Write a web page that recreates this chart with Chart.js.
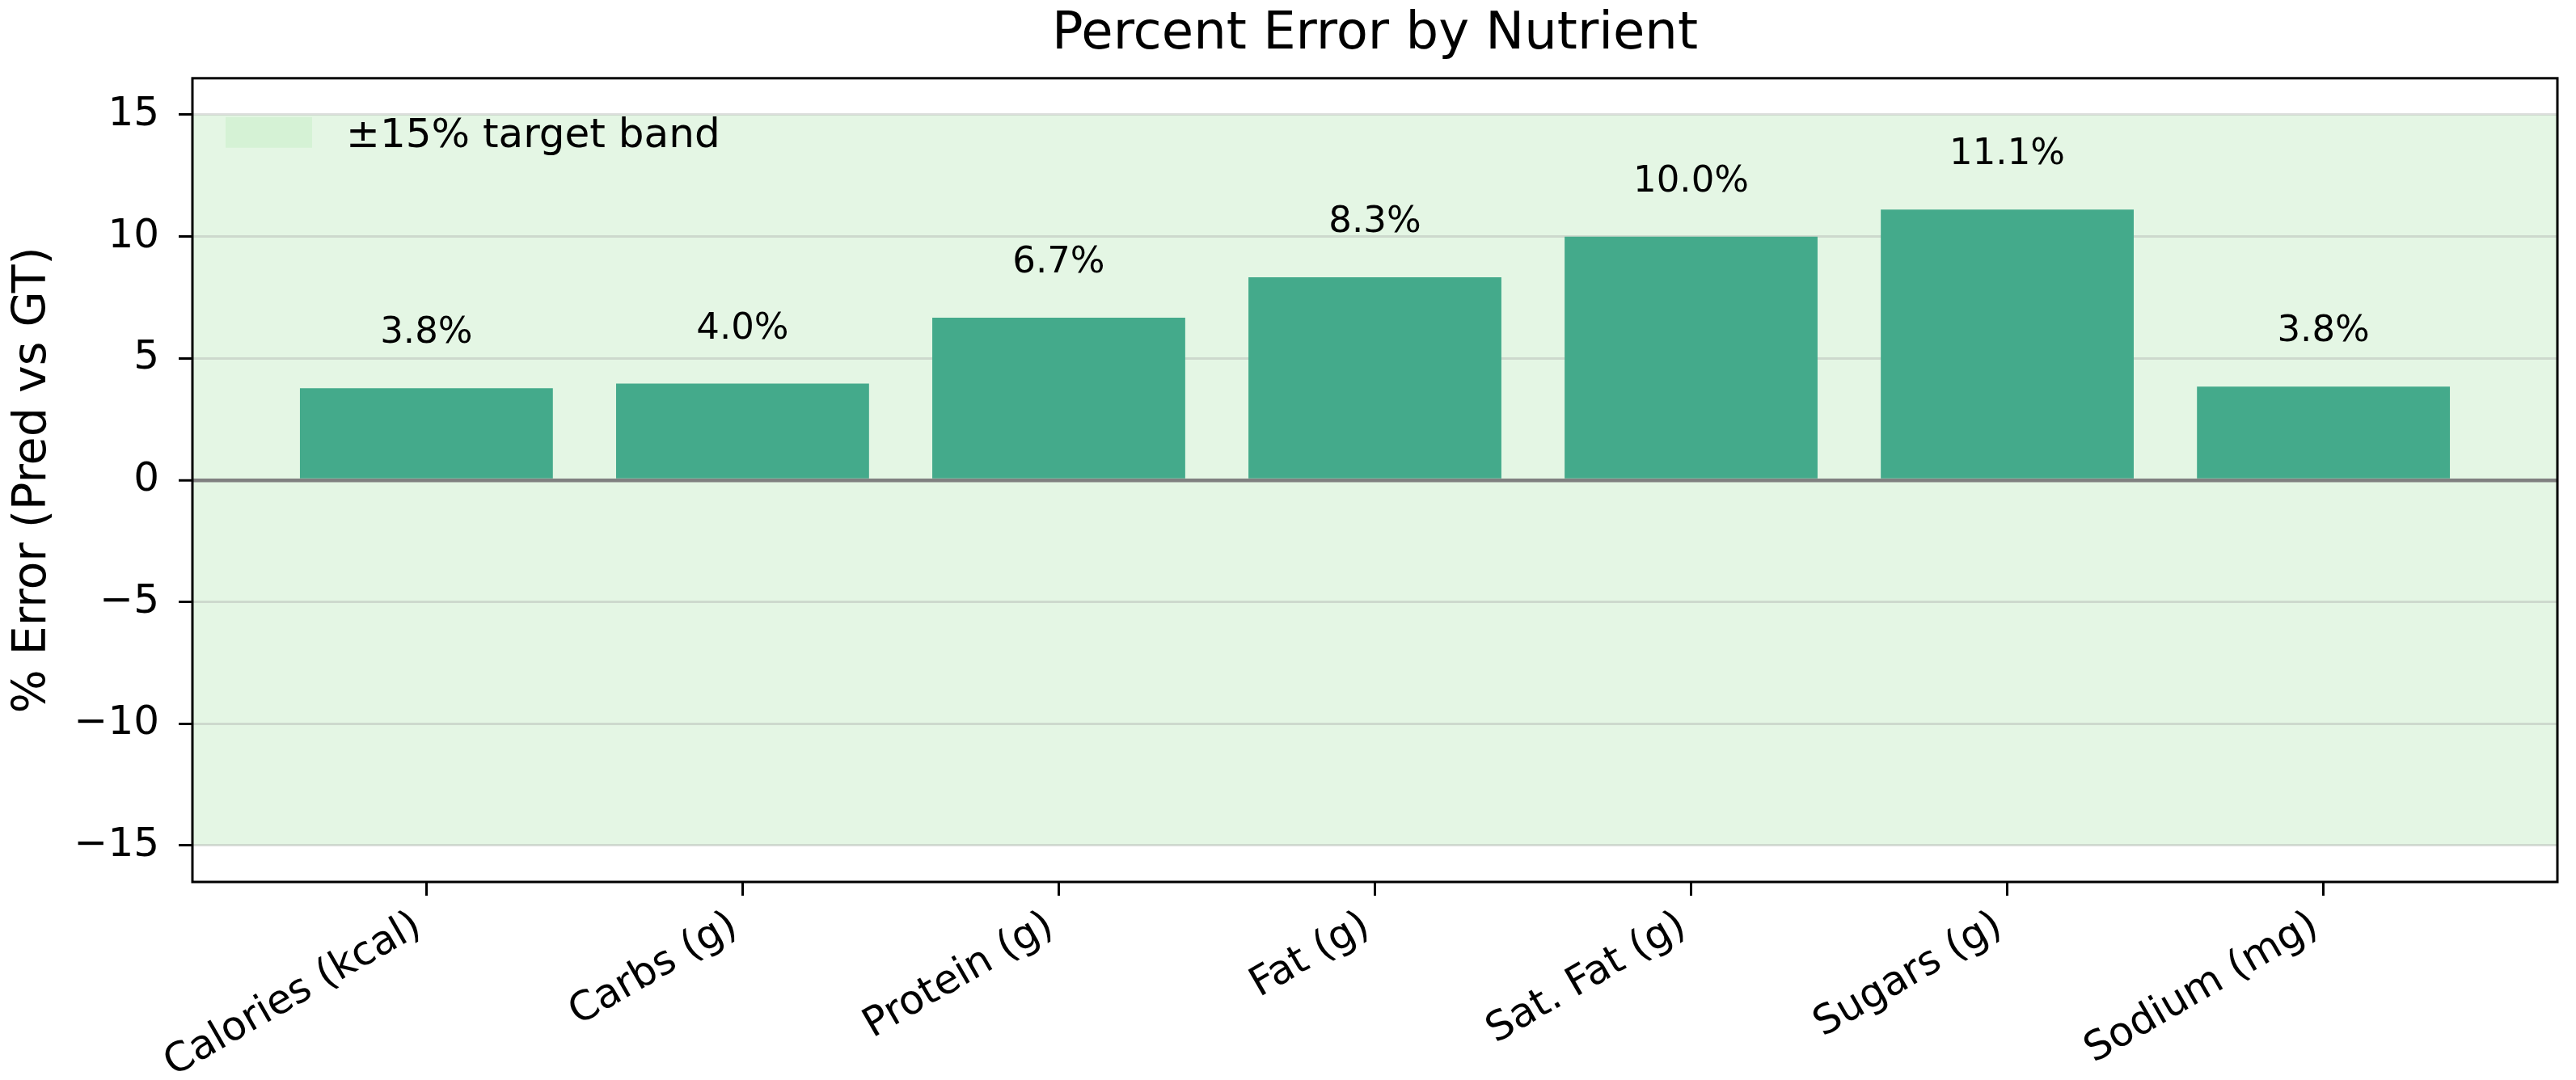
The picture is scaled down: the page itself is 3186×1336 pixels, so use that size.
<!DOCTYPE html>
<html>
<head>
<meta charset="utf-8">
<title>Percent Error by Nutrient</title>
<script src="https://cdn.jsdelivr.net/npm/chart.js@4.4.1/dist/chart.umd.min.js"></script>
<style>
  html, body { margin: 0; padding: 0; background: #fff; }
  canvas { display: block; }
</style>
</head>
<body>
<canvas id="errorChart" width="3186" height="1336"></canvas>
<script>
// ---- data ----
const nutrients = ['Calories (kcal)', 'Carbs (g)', 'Protein (g)', 'Fat (g)', 'Sat. Fat (g)', 'Sugars (g)', 'Sodium (mg)'];
const percentError = [3.77, 3.96, 6.67, 8.33, 10.0, 11.11, 3.84];
const yTickValues = [-15, -10, -5, 0, 5, 10, 15];
const targetBand = [-15, 15];
const bandLabel = '\u00b115% target band';

// axis limits (matplotlib-style margins)
const X_MIN = -0.74, X_MAX = 6.74;
const Y_MIN = -16.5, Y_MAX = 16.5;

// ---- style ----
const FONT = "'DejaVu Sans', sans-serif";
const BAR_COLOR = '#44aa8b';
const BAND_COLOR = '#e4f6e4';
const PATCH_COLOR = '#d5f2d5';
const GRID_COLOR = 'rgba(170, 176, 170, 0.4)';
const ZERO_COLOR = '#808080';
const LABEL_GAP = 1.5; // value-label offset above bar, in data units

/**
 * Shaded +-15% band behind everything
 */
const bandPlugin = {
  id: 'targetBand',
  beforeDraw(chart) {
    const { ctx, chartArea } = chart;
    const y = chart.scales.y;
    const top = y.getPixelForValue(targetBand[1]);
    const bottom = y.getPixelForValue(targetBand[0]);
    ctx.save();
    ctx.fillStyle = BAND_COLOR;
    ctx.fillRect(chartArea.left, top, chartArea.right - chartArea.left, bottom - top);
    ctx.restore();
  }
};

/**
 * Legend entry for the band, upper-left inside the axes
 */
const bandLegendPlugin = {
  id: 'bandLegend',
  beforeDatasetsDraw(chart) {
    const { ctx, chartArea } = chart;
    const x0 = chartArea.left + 41;
    const y0 = chartArea.top + 48;
    ctx.save();
    ctx.fillStyle = PATCH_COLOR;
    ctx.fillRect(x0, y0, 107, 38);
    ctx.fillStyle = '#000';
    ctx.font = `50px ${FONT}`;
    ctx.textAlign = 'left';
    ctx.textBaseline = 'alphabetic';
    ctx.fillText(bandLabel, x0 + 149, y0 + 37);
    ctx.restore();
  }
};

/**
 * Percentage text above each bar
 */
const valueLabelPlugin = {
  id: 'valueLabels',
  afterDatasetsDraw(chart) {
    const { ctx } = chart;
    const y = chart.scales.y;
    const meta = chart.getDatasetMeta(0);
    ctx.save();
    ctx.fillStyle = '#000';
    ctx.font = `45px ${FONT}`;
    ctx.textAlign = 'center';
    ctx.textBaseline = 'bottom';
    meta.data.forEach((bar, i) => {
      const v = percentError[i];
      ctx.fillText(`${v.toFixed(1)}%`, bar.x, y.getPixelForValue(v + LABEL_GAP));
    });
    ctx.restore();
  }
};

/**
 * Black box around the plot area
 */
const framePlugin = {
  id: 'axesFrame',
  afterDraw(chart) {
    const { ctx, chartArea } = chart;
    ctx.save();
    ctx.strokeStyle = '#000';
    ctx.lineWidth = 3;
    ctx.strokeRect(chartArea.left, chartArea.top, chartArea.right - chartArea.left, chartArea.bottom - chartArea.top);
    ctx.restore();
  }
};

const ctx = document.getElementById('errorChart');

new Chart(ctx, {
  type: 'bar',
  data: {
    datasets: [
      {
        label: 'Percent error',
        data: percentError.map((v, i) => ({ x: i, y: v })),
        backgroundColor: BAR_COLOR,
        borderWidth: 0,
        barPercentage: 0.8,
        categoryPercentage: 1.0
      }
    ]
  },
  options: {
    responsive: false,
    devicePixelRatio: 1,
    animation: false,
    layout: {
      padding: { left: 0, right: 23, top: 0, bottom: 0 }
    },
    plugins: {
      title: {
        display: true,
        text: 'Percent Error by Nutrient',
        fullSize: false,
        color: '#000',
        font: { family: FONT, size: 64, weight: 'normal' },
        padding: { top: 5, bottom: 15 }
      },
      legend: { display: false },
      tooltip: { enabled: false }
    },
    scales: {
      x: {
        type: 'linear',
        min: X_MIN,
        max: X_MAX,
        offset: false,
        afterBuildTicks: (scale) => {
          scale.ticks = nutrients.map((_, i) => ({ value: i }));
        },
        afterFit: (scale) => {
          scale.height = 245;
        },
        border: { display: false },
        grid: {
          offset: false,
          drawOnChartArea: false,
          drawTicks: true,
          tickLength: 17,
          tickWidth: 3,
          tickColor: '#000'
        },
        ticks: {
          autoSkip: false,
          minRotation: 30,
          maxRotation: 30,
          padding: 8,
          labelOffset: -10,
          color: '#000',
          font: { family: FONT, size: 50 },
          callback: (value) => nutrients[value]
        }
      },
      y: {
        min: Y_MIN,
        max: Y_MAX,
        z: 1,
        afterBuildTicks: (scale) => {
          scale.ticks = yTickValues.map(v => ({ value: v }));
        },
        afterFit: (scale) => {
          scale.width = 238;
        },
        border: { display: false },
        grid: {
          color: (c) => (c.tick && c.tick.value === 0 ? ZERO_COLOR : GRID_COLOR),
          lineWidth: (c) => (c.tick && c.tick.value === 0 ? 4.5 : 3),
          drawTicks: true,
          tickLength: 17,
          tickWidth: 3,
          tickColor: '#000'
        },
        ticks: {
          padding: 24,
          color: '#000',
          font: { family: FONT, size: 50 },
          callback: (value) => (value < 0 ? '\u2212' + Math.abs(value) : String(value))
        },
        title: {
          display: true,
          text: '% Error (Pred vs GT)',
          color: '#000',
          font: { family: FONT, size: 57 },
          padding: { top: 7, bottom: 0 }
        }
      }
    }
  },
  plugins: [bandPlugin, bandLegendPlugin, valueLabelPlugin, framePlugin]
});
</script>
</body>
</html>
